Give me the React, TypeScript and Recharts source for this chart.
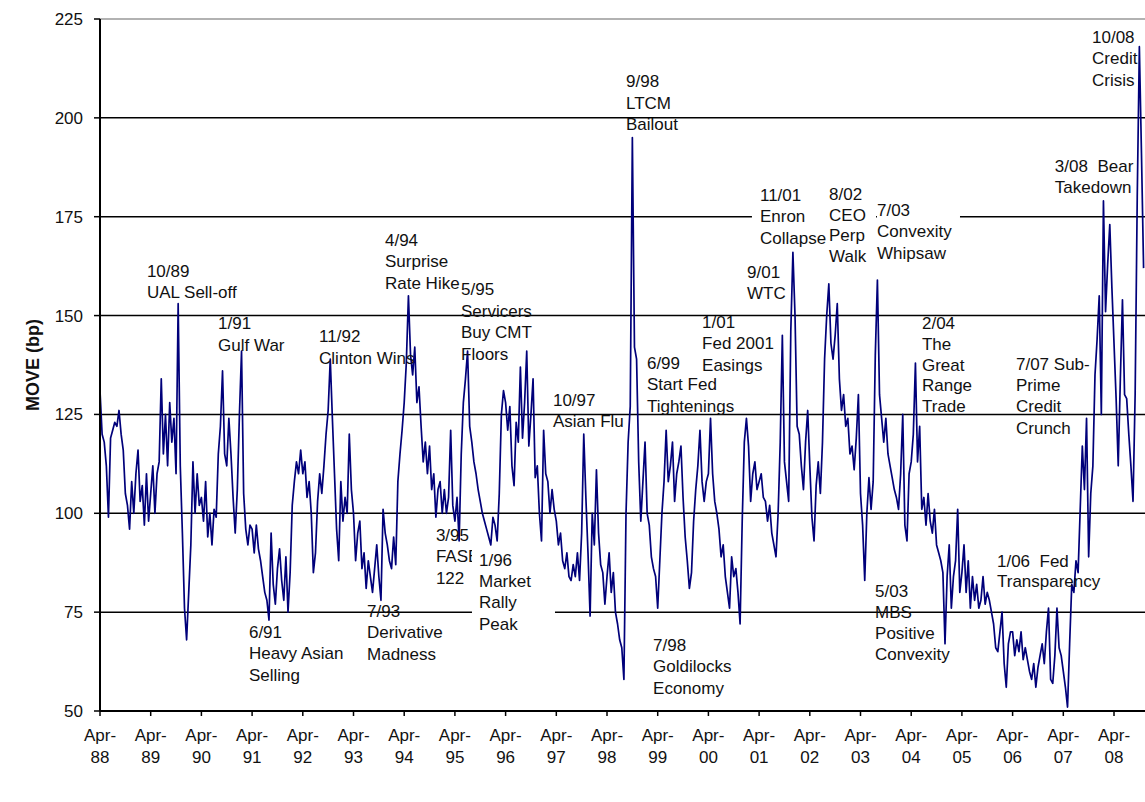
import React from 'react';
import { LineChart, Line, XAxis, YAxis, CartesianGrid, ReferenceLine, ReferenceDot, Label } from 'recharts';

const FONT = '"Liberation Sans", Arial, Helvetica, sans-serif';

// MOVE index (bp), two readings a month, each row runs April -> March
const apr88 = [131, 120, 118, 112, 99, 119, 121, 123, 122, 126, 120, 116, 105, 102, 96, 108, 100, 110, 116, 103, 107, 97, 110, 98];
const apr89 = [105, 112, 100, 110, 113, 134, 115, 125, 112, 128, 118, 124, 110, 153, 112, 95, 76, 68, 80, 92, 113, 100, 110, 102];
const apr90 = [104, 98, 108, 94, 100, 92, 101, 99, 115, 122, 136, 115, 112, 124, 115, 104, 95, 106, 125, 141, 105, 96, 92, 97];
const apr91 = [96, 90, 97, 91, 88, 84, 80, 78, 73, 95, 82, 77, 86, 91, 83, 78, 89, 75, 85, 102, 108, 113, 110, 116];
const apr92 = [110, 113, 104, 108, 100, 85, 90, 103, 110, 105, 112, 120, 126, 139, 124, 110, 96, 88, 108, 98, 104, 100, 120, 106];
const apr93 = [100, 88, 95, 98, 86, 90, 81, 88, 84, 80, 86, 92, 84, 78, 101, 95, 92, 88, 86, 94, 87, 108, 115, 121];
const apr94 = [128, 138, 155, 140, 135, 142, 128, 132, 122, 113, 118, 110, 117, 106, 110, 99, 106, 108, 100, 106, 100, 104, 121, 102];
const apr95 = [98, 104, 93, 115, 128, 134, 141, 122, 118, 113, 110, 106, 103, 100, 98, 96, 94, 92, 99, 97, 93, 105, 125, 131];
const apr96 = [128, 121, 127, 112, 107, 123, 118, 137, 119, 128, 141, 117, 125, 134, 109, 112, 100, 93, 121, 110, 108, 100, 106, 101];
const apr97 = [98, 92, 95, 88, 86, 90, 84, 83, 87, 84, 90, 83, 95, 120, 104, 90, 74, 100, 92, 111, 95, 87, 85, 77];
const apr98 = [84, 90, 80, 85, 75, 72, 68, 66, 58, 100, 118, 127, 195, 142, 139, 113, 98, 108, 118, 100, 97, 89, 86, 84];
const apr99 = [76, 88, 100, 108, 121, 108, 112, 118, 103, 110, 113, 117, 104, 94, 88, 81, 85, 98, 106, 112, 121, 108, 103, 108];
const apr00 = [110, 124, 110, 103, 100, 96, 89, 92, 84, 80, 76, 89, 84, 86, 80, 72, 98, 118, 124, 117, 103, 110, 113, 106];
const apr01 = [108, 110, 104, 103, 98, 102, 95, 92, 89, 100, 118, 145, 113, 108, 103, 146, 166, 150, 122, 120, 112, 106, 118, 126];
const apr02 = [112, 99, 93, 107, 113, 105, 118, 139, 150, 158, 143, 139, 145, 153, 134, 126, 130, 122, 124, 115, 117, 111, 119, 130];
const apr03 = [105, 97, 83, 100, 109, 101, 108, 140, 159, 130, 124, 118, 124, 115, 112, 109, 106, 104, 101, 110, 125, 97, 93, 110];
const apr04 = [113, 120, 138, 113, 122, 101, 104, 97, 105, 98, 95, 101, 92, 90, 88, 85, 67, 84, 92, 76, 84, 88, 101, 80];
const apr05 = [85, 92, 80, 88, 76, 84, 78, 82, 76, 78, 84, 77, 80, 78, 75, 72, 66, 65, 70, 75, 62, 56, 67, 70];
const apr06 = [70, 64, 68, 65, 70, 63, 66, 63, 60, 58, 62, 56, 61, 64, 67, 62, 70, 76, 58, 57, 64, 76, 66, 64];
const apr07 = [60, 56, 51, 67, 82, 80, 88, 85, 101, 117, 106, 124, 89, 105, 112, 135, 144, 155, 125, 179, 151, 163, 173, 157];
const apr08 = [143, 129, 112, 134, 154, 130, 129, 120, 112, 103, 130, 180, 218, 191, 162];

const yearRows = [apr88, apr89, apr90, apr91, apr92, apr93, apr94, apr95, apr96, apr97, apr98,
  apr99, apr00, apr01, apr02, apr03, apr04, apr05, apr06, apr07, apr08];
const yearLabels = ['88', '89', '90', '91', '92', '93', '94', '95', '96', '97', '98',
  '99', '00', '01', '02', '03', '04', '05', '06', '07', '08'];
const yTicks = [50, 75, 100, 125, 150, 175, 200, 225];

const moveData = yearRows.flat().map((v, i) => ({ i, v }));
const yearTicks = yearLabels.map((_, k) => k * 24);

// event notes, anchored in data space (half-month index, bp) at first line
type Note = { i: number; v: number; lines: string[]; step?: number; box?: [number, number] };
const notes: Note[] = [
  { i: 22.2, v: 161.3, lines: ['10/89', 'UAL Sell-off'] },
  { i: 55.9, v: 148.1, lines: ['1/91', 'Gulf War'] },
  { i: 103.7, v: 144.7, lines: ['11/92', 'Clinton Wins'] },
  { i: 134.9, v: 169.1, lines: ['4/94', 'Surprise', 'Rate Hike'] },
  { i: 170.9, v: 156.7, lines: ['5/95', 'Servicers', 'Buy CMT', 'Floors'] },
  { i: 249, v: 209.3, lines: ['9/98', 'LTCM', 'Bailout'] },
  { i: 312.4, v: 180.5, lines: ['11/01', 'Enron', 'Collapse'], box: [-8, 78] },
  { i: 345.1, v: 180.8, lines: ['8/02', 'CEO', 'Perp', 'Walk'], step: 20.8, box: [-1, 48] },
  { i: 367.8, v: 176.8, lines: ['7/03', 'Convexity', 'Whipsaw'], box: [0, 83] },
  { i: 306.3, v: 161.1, lines: ['9/01', 'WTC'] },
  { i: 285, v: 148.4, lines: ['1/01', 'Fed 2001', 'Easings'] },
  { i: 258.9, v: 138, lines: ['6/99', 'Start Fed', 'Tightenings'] },
  { i: 214.4, v: 128.7, lines: ['10/97', 'Asian Flu'] },
  { i: 452, v: 187.8, lines: ['3/08  Bear', 'Takedown'], step: 20.5 },
  { i: 469.6, v: 220.5, lines: ['10/08', 'Credit', 'Crisis'] },
  { i: 389.1, v: 148.1, lines: ['2/04', 'The', 'Great', 'Range', 'Trade'], step: 20.8 },
  { i: 433.6, v: 137.8, lines: ['7/07 Sub-', 'Prime', 'Credit', 'Crunch'], step: 21.3 },
  { i: 159, v: 94.5, lines: ['3/95', 'FASB', '122'] },
  { i: 179.4, v: 88.2, lines: ['1/96', 'Market', 'Rally', 'Peak'], step: 21.3, box: [-7, 83] },
  { i: 126.4, v: 75.3, lines: ['7/93', 'Derivative', 'Madness'] },
  { i: 70.5, v: 70, lines: ['6/91', 'Heavy Asian', 'Selling'] },
  { i: 261.8, v: 66.7, lines: ['7/98', 'Goldilocks', 'Economy'] },
  { i: 366.9, v: 80.3, lines: ['5/03', 'MBS', 'Positive', 'Convexity'], step: 21 },
  { i: 424.6, v: 87.9, lines: ['1/06  Fed', 'Transparency'], step: 20 },
];

function NoteShape({ cx, cy, note }: { cx: number; cy: number; note: Note }) {
  const step = note.step ?? 21.5;
  return (
    <g>
      {note.box && (
        <rect
          x={cx + note.box[0]}
          y={cy - 12}
          width={note.box[1]}
          height={(note.lines.length - 1) * step + 22}
          fill="#fff"
        />
      )}
      {note.lines.map((t, k) => (
        <text key={k} x={cx} y={cy + k * step} dy="0.35em" fontSize={17} fontFamily={FONT} fill="#111" style={{ whiteSpace: 'pre' }}>
          {t}
        </text>
      ))}
    </g>
  );
}

function YearTick({ x, y, payload }: { x?: number; y?: number; payload?: { value: number } }) {
  const k = yearTicks.indexOf(payload?.value ?? -1);
  return (
    <g>
      <text x={x} y={(y ?? 0) + 23} textAnchor="middle" fontSize={17} fontFamily={FONT} fill="#111">Apr-</text>
      <text x={x} y={(y ?? 0) + 45} textAnchor="middle" fontSize={17} fontFamily={FONT} fill="#111">{yearLabels[k]}</text>
    </g>
  );
}

export default function App() {
  return (
    <div style={{ position: 'absolute', left: 0, top: 0, width: 1145, height: 802, background: '#fff' }}>
      <LineChart width={1145} height={802} data={moveData} margin={{ top: 19, right: 0, bottom: 31, left: 40 }}>
        <CartesianGrid vertical={false} horizontalValues={[75, 100, 125, 150, 175, 200]} stroke="#000" strokeWidth={1.5} />
        <ReferenceLine y={225} stroke="#999" strokeWidth={1.5} />
        <XAxis
          dataKey="i"
          type="number"
          domain={[0, 494.67]}
          allowDataOverflow
          ticks={yearTicks}
          interval={0}
          height={60}
          tickSize={5}
          axisLine={{ stroke: '#000', strokeWidth: 2 }}
          tickLine={{ stroke: '#000', strokeWidth: 1.5 }}
          tick={<YearTick />}
        />
        <YAxis
          type="number"
          domain={[50, 225]}
          ticks={yTicks}
          interval={0}
          width={60}
          tickSize={6}
          tickMargin={11}
          axisLine={{ stroke: '#000', strokeWidth: 2 }}
          tickLine={{ stroke: '#000', strokeWidth: 1.5 }}
          tick={{ fill: '#111', fontSize: 17, fontFamily: FONT }}
        >
          <Label
            content={(props: any) => {
              const vb = props.viewBox || { x: 40, y: 19, height: 692 };
              const lx = vb.x - 7;
              const ly = vb.y + vb.height / 2;
              return (
                <text x={lx} y={ly} transform={`rotate(-90 ${lx} ${ly})`} textAnchor="middle" dy="0.35em"
                  fontSize={18} fontWeight="bold" fontFamily={FONT} fill="#111">
                  MOVE (bp)
                </text>
              );
            }}
          />
        </YAxis>
        <Line
          type="linear"
          dataKey="v"
          stroke="#00007a"
          strokeWidth={1.7}
          strokeLinejoin="round"
          dot={false}
          activeDot={false}
          isAnimationActive={false}
        />
        {notes.map((n, k) => (
          <ReferenceDot
            key={k}
            x={n.i}
            y={n.v}
            r={1}
            ifOverflow="visible"
            shape={(p: any) => <NoteShape cx={p.cx} cy={p.cy} note={n} />}
          />
        ))}
      </LineChart>
    </div>
  );
}
